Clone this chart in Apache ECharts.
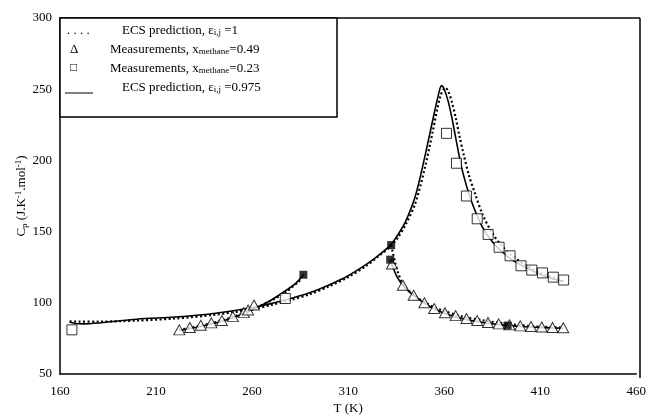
<!DOCTYPE html>
<html><head><meta charset="utf-8">
<script src="https://cdn.jsdelivr.net/npm/echarts@6/dist/echarts.min.js"></script>
<style>html,body{margin:0;padding:0;background:#fff}#c{width:649px;height:420px}</style>
</head><body><div id="c"></div>
<script>
// ECS prediction eps=0.975, x_methane=0.23 (solid)
const solidT  = [165,168,172,180,200,220,240,260,270,280,290,300,310,320,326,332,336,340,345,350,354,357,358.6,360,362,364,366,368,370,373,376,380,385,390,395,400,405,410,415,422];
const solidCp = [86.5,85.5,85.2,85.8,88.5,90,92.5,96.5,99.5,103,107,112.5,119,127.5,133.5,140.5,148,157.4,175,203,228,246,252.5,250,242,230,216,202,190,176,165,153,143,136,130.5,126.5,123,120,117.5,115];
// ECS prediction eps=1, x_methane=0.23 (dotted)
const dotT  = [165,170,180,200,220,240,260,270,280,290,300,310,320,326,332,336,340,345,350,354,358,360.6,362,364,366,368,370,373,376,380,385,390,395,400,405,410,415,422];
const dotCp = [87,86.8,86.8,87.5,89,91.5,95.5,98.5,102,106,111.5,118,126.5,133,139.5,146,155,170,195,220,245,251,249,241,230,217,205,189,177,162,149,140,133.5,128.5,124.5,121,118.5,115.5];
// x_methane=0.49 branches
const lowSolidT  = [222,230,240,250,260,270,278,283,287];
const lowSolidCp = [80.5,82.5,85.5,89.5,95,102,109,114,120];
const lowDotT  = [222,230,240,250,260,270,278,285];
const lowDotCp = [81,83,86,90,95.5,101.5,108,115.8];
const upSolidT  = [331.9,333,335,337,339,342,345,350,355,360,370,380,390,400,410,422];
const upSolidCp = [130.3,126,119.5,115,111.5,107.5,104.3,99.5,95.7,92.7,88.7,86.2,84.5,83.4,82.7,82.1];
const upDotT  = [332.4,333.5,334.5,336,338,340,343,346,350,355,360,370,380,390,400,410,422];
const upDotCp = [140.5,134,128,121,114.5,110.5,106.8,103.5,100.2,96.7,94.2,90.2,87.7,85.7,84.2,83.2,82.6];
// Measurements x_methane=0.49 (triangles)
const triT  = [222.1,227.6,233.3,238.8,244.3,250.0,255.7,257.9,261.0,332.8,338.5,344.1,349.7,354.8,360.4,366,371.6,377.2,382.8,388.4,394,399.6,405.2,410.8,416.4,422];
const triCp = [81.0,82.6,84.2,85.9,87.5,90.3,93.1,94.9,98.4,127.3,112.3,105.3,100,96,93,91,89,87.5,86.2,85.2,84.5,83.8,83.3,83,82.7,82.5];
// Measurements x_methane=0.23 (squares)
const sqT  = [166.2,277.3,361.2,366.4,371.6,377.2,382.9,388.6,394.3,400.0,405.6,411.2,416.8,422.2];
const sqCp = [81,103,219,198,175,159,148,139,133,126,123,121,118,116];
// phase boundary points (filled squares)
const fillT  = [286.7,332.4,331.9,393];
const fillCp = [119.7,140.5,130.3,84];

const xTicks = [160,210,260,310,360,410,460];
const yTicks = [50,100,150,200,250,300];

const zip = (a,b)=>a.map((v,i)=>[v,b[i]]);
const F = 'Liberation Serif';
const chart = echarts.init(document.getElementById('c'));
const lineBase = {type:'line',symbol:'none',smooth:0.3,silent:true,z:3};
chart.setOption({
  animation:false,
  backgroundColor:'#fff',
  grid:{left:60,right:9,top:18,bottom:42,containLabel:false,show:false},
  xAxis:{type:'value',min:xTicks[0],max:xTicks[xTicks.length-1],interval:50,
    name:'T (K)',nameLocation:'middle',nameGap:28,nameMoveOverlap:false,
    nameTextStyle:{fontFamily:F,fontSize:13,color:'#000'},
    axisLine:{show:true,onZero:false,lineStyle:{color:'#000',width:1.5}},
    axisTick:{show:false},splitLine:{show:false},
    axisLabel:{fontFamily:F,fontSize:13,color:'#000',margin:11}},
  yAxis:{type:'value',min:yTicks[0],max:yTicks[yTicks.length-1],interval:50,
    name:'{n|C}{s|p}{n| (J.K}{u|-1}{n|.mol}{u|-1}{n|)}',nameLocation:'middle',nameGap:31,nameRotate:90,nameMoveOverlap:false,
    nameTextStyle:{rich:{n:{fontFamily:F,fontSize:13,color:'#000'},s:{fontFamily:F,fontSize:9,color:'#000',verticalAlign:'bottom',padding:[6,0,0,0]},u:{fontFamily:F,fontSize:9,color:'#000',verticalAlign:'top',padding:[0,0,5,0]}}},
    axisLine:{show:true,lineStyle:{color:'#000',width:1.5}},
    axisTick:{show:false},splitLine:{show:false},
    axisLabel:{fontFamily:F,fontSize:13,color:'#000',margin:8}},
  series:[
    Object.assign({},lineBase,{name:'dot',data:zip(dotT,dotCp),lineStyle:{color:'#000',width:2.2,type:[2,2.5]}}),
    Object.assign({},lineBase,{name:'solid',data:zip(solidT,solidCp),lineStyle:{color:'#000',width:1.6}}),
    Object.assign({},lineBase,{data:zip(lowSolidT,lowSolidCp),lineStyle:{color:'#000',width:1.6}}),
    Object.assign({},lineBase,{data:zip(lowDotT,lowDotCp),lineStyle:{color:'#000',width:2.2,type:[2,2.5]}}),
    Object.assign({},lineBase,{data:zip(upSolidT,upSolidCp),lineStyle:{color:'#000',width:1.6}}),
    Object.assign({},lineBase,{data:zip(upDotT,upDotCp),lineStyle:{color:'#000',width:2.2,type:[2,2.5]}}),
    {type:'scatter',data:zip(triT,triCp),symbol:'triangle',symbolSize:[11,10],z:4,
      itemStyle:{color:'#fff',borderColor:'#000',borderWidth:1}},
    {type:'scatter',data:zip(sqT,sqCp),symbol:'rect',symbolSize:10,z:4,
      itemStyle:{color:'#fff',borderColor:'#000',borderWidth:1}},
    {type:'scatter',data:zip(fillT,fillCp),symbol:'rect',symbolSize:8,z:5,
      itemStyle:{color:'#000'}}
  ],
  graphic:[
    {type:'line',shape:{x1:60,y1:18,x2:640,y2:18},style:{stroke:'#000',lineWidth:1.5},z:10},
    {type:'line',shape:{x1:640,y1:18,x2:640,y2:378},style:{stroke:'#000',lineWidth:1.5},z:10},
    {type:'rect',shape:{x:60,y:18,width:277,height:99},style:{fill:'#fff',stroke:'#000',lineWidth:1.5},z:20},
    {type:'text',left:67,top:24,style:{text:'. . . .',font:'13px '+F,fill:'#000'},z:21},
    {type:'text',left:122,top:24,z:21,style:{text:'ECS prediction, {e|ε}{s|i,j}{n| =1}',font:'13px '+F,fill:'#000',
      rich:{e:{fontFamily:F,fontSize:13},s:{fontFamily:F,fontSize:9,verticalAlign:'bottom',padding:[5,0,0,0]},n:{fontFamily:F,fontSize:13}}}},
    {type:'text',left:70,top:43,style:{text:'Δ',font:'13px '+F,fill:'#000'},z:21},
    {type:'text',left:110,top:43,z:21,style:{text:'Measurements, x{s|methane}{n|=0.49}',font:'13px '+F,fill:'#000',
      rich:{s:{fontFamily:F,fontSize:9,verticalAlign:'bottom',padding:[5,0,0,0]},n:{fontFamily:F,fontSize:13}}}},
    {type:'text',left:70,top:62,style:{text:'□',font:'12px '+F,fill:'#000'},z:21},
    {type:'text',left:110,top:62,z:21,style:{text:'Measurements, x{s|methane}{n|=0.23}',font:'13px '+F,fill:'#000',
      rich:{s:{fontFamily:F,fontSize:9,verticalAlign:'bottom',padding:[5,0,0,0]},n:{fontFamily:F,fontSize:13}}}},
    {type:'line',shape:{x1:65,y1:93,x2:93,y2:93},style:{stroke:'#000',lineWidth:1},z:21},
    {type:'text',left:122,top:81,z:21,style:{text:'ECS prediction, {e|ε}{s|i,j}{n| =0.975}',font:'13px '+F,fill:'#000',
      rich:{e:{fontFamily:F,fontSize:13},s:{fontFamily:F,fontSize:9,verticalAlign:'bottom',padding:[5,0,0,0]},n:{fontFamily:F,fontSize:13}}}}
  ]
});
</script></body></html>
